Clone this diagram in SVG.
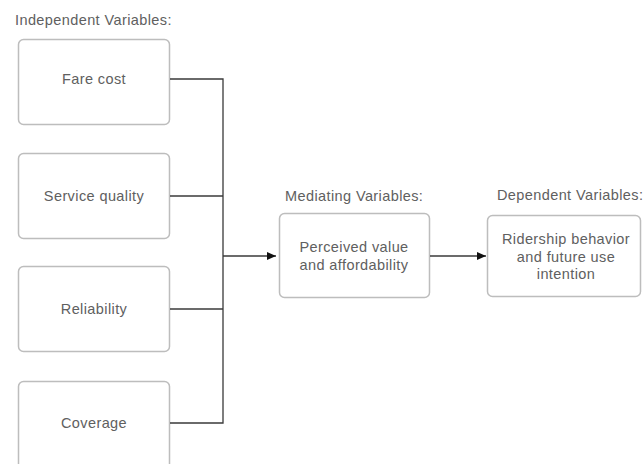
<svg xmlns="http://www.w3.org/2000/svg" width="643" height="464" viewBox="0 0 643 464">
<defs>
<style>
text{font-family:"Liberation Sans",Arial,sans-serif;font-size:14.5px;fill:#606060;letter-spacing:0.4px;}
.c{text-anchor:middle;}
.box{fill:#fff;stroke:#bdbdbd;stroke-width:1.5;}
.ln{fill:none;stroke:#3a3a3a;stroke-width:1.3;}
</style>
<marker id="ah" markerWidth="10" markerHeight="10" refX="9" refY="5" orient="auto" markerUnits="userSpaceOnUse">
<path d="M0,1 L9,5 L0,9 z" fill="#111"/>
</marker>
</defs>
<rect width="643" height="464" fill="#fff"/>
<text x="15" y="25">Independent Variables:</text>
<g id="fare">
<rect class="box" x="18.5" y="39.5" width="151" height="85" rx="5"/>
<text class="c" x="94" y="84">Fare cost</text>
</g>
<g id="service">
<rect class="box" x="18.5" y="153.5" width="151" height="85" rx="5"/>
<text class="c" x="94" y="201">Service quality</text>
</g>
<g id="reliability">
<rect class="box" x="18.5" y="266.5" width="151" height="85" rx="5"/>
<text class="c" x="94" y="314">Reliability</text>
</g>
<g id="coverage">
<rect class="box" x="18.5" y="381.5" width="151" height="90" rx="5"/>
<text class="c" x="94" y="428">Coverage</text>
</g>
<g id="mediating">
<text x="285" y="201">Mediating Variables:</text>
<rect class="box" x="279.5" y="213.5" width="150" height="84" rx="5"/>
<text class="c" x="354" y="252">Perceived value</text>
<text class="c" x="354" y="270">and affordability</text>
</g>
<g id="dependent">
<text x="497" y="200">Dependent Variables:</text>
<rect class="box" x="487.5" y="215.5" width="153" height="81" rx="5"/>
<text class="c" x="566" y="244">Ridership behavior</text>
<text class="c" x="566" y="262">and future use</text>
<text class="c" x="566" y="279">intention</text>
</g>
<g id="connectors">
<path class="ln" d="M170,79 H223 V423 H170"/>
<path class="ln" d="M170,196 H223"/>
<path class="ln" d="M170,309 H223"/>
<path class="ln" d="M223,256 H276" marker-end="url(#ah)"/>
<path class="ln" d="M430,256 H486" marker-end="url(#ah)"/>
</g>
</svg>
